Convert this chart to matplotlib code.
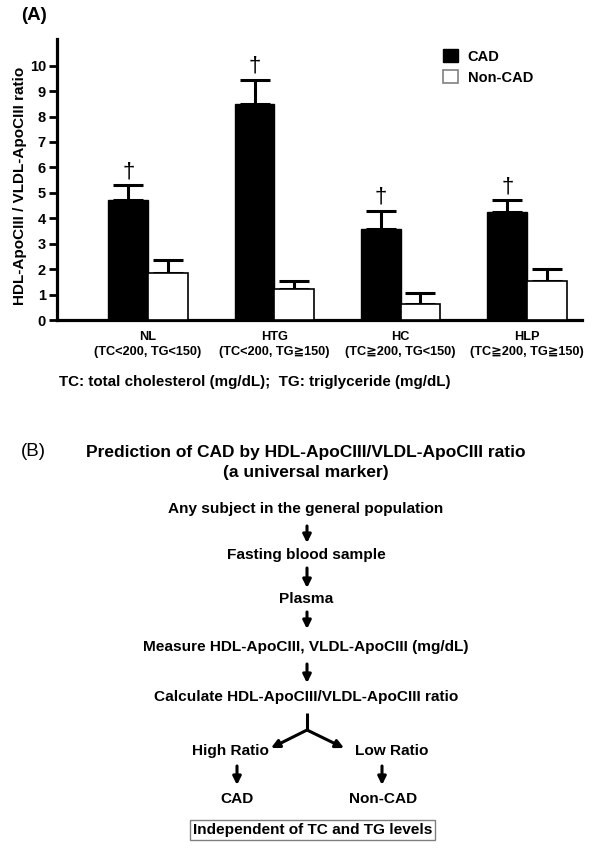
import matplotlib
matplotlib.use('Agg')
import matplotlib.pyplot as plt
import numpy as np

plt.rcParams['font.family'] = ['Liberation Sans', 'DejaVu Sans']
plt.rcParams['font.weight'] = 'bold'

# dados (A)
grupos = ['NL\n(TC<200, TG<150)', 'HTG\n(TC<200, TG≧150)',
          'HC\n(TC≧200, TG<150)', 'HLP\n(TC≧200, TG≧150)']
cad = [4.72, 8.50, 3.57, 4.24]
cad_erro = [0.57, 0.95, 0.73, 0.48]
non_cad = [1.85, 1.21, 0.63, 1.54]
non_cad_erro = [0.51, 0.33, 0.42, 0.48]
yticks = list(range(0, 11))

# passos do fluxograma (B)
passos = ['Any subject in the general population', 'Fasting blood sample', 'Plasma',
          'Measure HDL-ApoCIII, VLDL-ApoCIII (mg/dL)',
          'Calculate HDL-ApoCIII/VLDL-ApoCIII ratio']

fig = plt.figure(figsize=(6, 8.48), dpi=100)
ax = fig.add_axes([57 / 600, 1 - 320 / 848, 525 / 600, 281 / 848])

x = np.arange(len(grupos))
w = 0.313
ax.bar(x - w / 2, cad, w, color='black', edgecolor='black', linewidth=1, label='CAD', zorder=3)
ax.bar(x + w / 2, non_cad, w, color='white', edgecolor='black', linewidth=1.2, label='Non-CAD', zorder=3)
ax.errorbar(x - w / 2, cad, yerr=[np.zeros(4), cad_erro], fmt='none', ecolor='black',
            elinewidth=2.2, capsize=10.5, capthick=2.2, zorder=2)
ax.errorbar(x + w / 2, non_cad, yerr=[np.zeros(4), non_cad_erro], fmt='none', ecolor='black',
            elinewidth=2.2, capsize=10.5, capthick=2.2, zorder=2)

# cruzes de significância
for xi, v, e in zip(x - w / 2, cad, cad_erro):
    ax.annotate('†', (xi, v + e), xytext=(0, 2), textcoords='offset points',
                ha='center', va='bottom', fontsize=16, fontweight='normal')

ax.set_xlim(-0.72, 3.435)
ax.set_ylim(0, 11.05)
ax.set_yticks(yticks)
ax.set_xticks(x)
ax.set_xticklabels(grupos, fontsize=9.2, fontweight='bold', linespacing=1.35)
ax.tick_params(axis='x', length=0, pad=8)
ax.tick_params(axis='y', length=6, width=2, labelsize=10.5, pad=2)
for s in ['top', 'right']:
    ax.spines[s].set_visible(False)
for s in ['left', 'bottom']:
    ax.spines[s].set_linewidth(2.3)
ax.set_ylabel('HDL-ApoCIII / VLDL-ApoCIII ratio', fontsize=11, fontweight='bold')
ax.yaxis.set_label_coords(-0.057, 0.477)

leg = ax.legend(loc='upper left', bbox_to_anchor=(443 / 600, 1 - 49 / 848),
                bbox_transform=fig.transFigure, frameon=False, fontsize=10.5,
                handlelength=1.0, handleheight=1.0, handletextpad=0.7,
                labelspacing=0.45, borderpad=0, borderaxespad=0)
leg.legend_handles[1].set_edgecolor('gray')

# camada em pixels para textos e setas
ov = fig.add_axes([0, 0, 1, 1])
ov.set_xlim(0, 600)
ov.set_ylim(848, 0)
ov.axis('off')

ov.text(21, 15, '(A)', fontsize=13.5, fontweight='bold', va='center')
ov.text(59, 382, 'TC: total cholesterol (mg/dL);  TG: triglyceride (mg/dL)',
        fontsize=10.9, va='center')

ov.text(21, 452, '(B)', fontsize=13.5, fontweight='normal', va='center')
ov.text(306, 452, 'Prediction of CAD by HDL-ApoCIII/VLDL-ApoCIII ratio',
        fontsize=12.5, ha='center', va='center')
ov.text(306, 473, '(a universal marker)', fontsize=12.5, ha='center', va='center')

ys = [509, 555, 599, 647, 697]
for t, y in zip(passos, ys):
    ov.text(306, y, t, fontsize=11.1, ha='center', va='center')

def seta(x0, y0, x1, y1):
    ov.annotate('', xy=(x1, y1), xytext=(x0, y0),
                arrowprops=dict(arrowstyle='-|>', lw=2.2, color='black',
                                mutation_scale=12, shrinkA=0, shrinkB=0))

for y0, y1 in [(526, 543), (568, 588), (612, 629), (664, 683)]:
    seta(307, y0, 307, y1)

ov.plot([307, 307], [713, 730], color='black', lw=2.2, solid_capstyle='butt')
seta(307, 730, 271, 748)
seta(307, 730, 344, 748)

ov.text(230, 751, 'High Ratio', fontsize=11.1, ha='center', va='center')
ov.text(392, 751, 'Low Ratio', fontsize=11.1, ha='center', va='center')
seta(237, 766, 237, 785)
seta(382, 766, 382, 785)
ov.text(237, 799, 'CAD', fontsize=11.1, ha='center', va='center')
ov.text(383, 799, 'Non-CAD', fontsize=11.1, ha='center', va='center')
ov.text(312.5, 830, 'Independent of TC and TG levels', fontsize=11.1, ha='center', va='center',
        bbox=dict(boxstyle='square,pad=0.2', facecolor='white', edgecolor='gray', lw=1))

fig.savefig('out.png', dpi=100)
